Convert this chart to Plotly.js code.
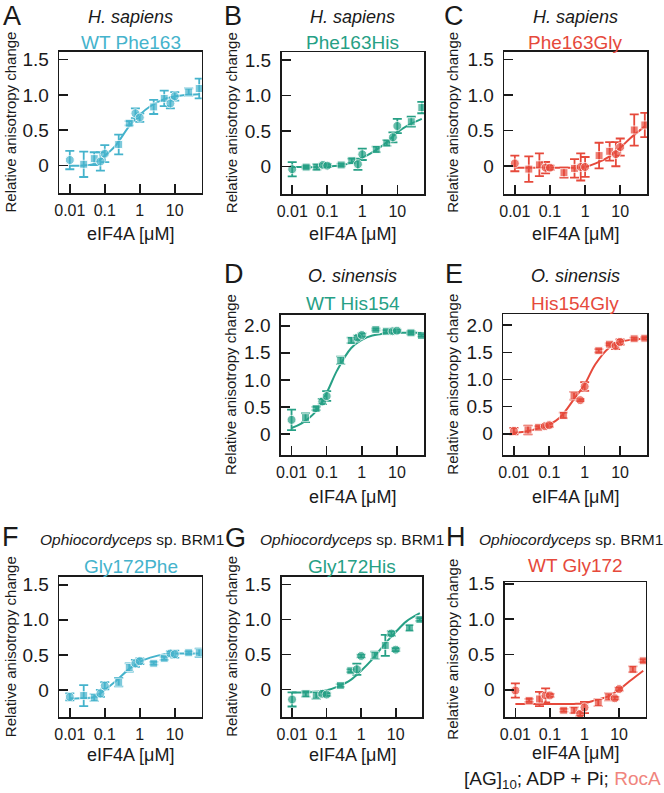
<!DOCTYPE html>
<html>
<head>
<meta charset="utf-8">
<script src="https://cdn.plot.ly/plotly-3.0.1.min.js"></script>
<style>
html,body{margin:0;padding:0;background:#fff;}
#chart{width:664px;height:793px;}
</style>
</head>
<body>
<div id="chart"></div>
<script>
// ---------------- DATA ----------------
const conc = [0.01, 0.025, 0.05, 0.075, 0.1, 0.25, 0.5, 0.75, 1, 2.5, 5, 7.5, 10, 25, 50];
const curveX = [0.01, 0.02, 0.05, 0.1, 0.2, 0.5, 1, 2, 5, 10, 20, 50];
const xTickVals = [0.01, 0.1, 1, 10];
const xTickText = ['0.01', '0.1', '1', '10'];
const yTickVals15 = [0, 0.5, 1.0, 1.5];
const yTickText15 = ['0', '0.5', '1.0', '1.5'];
const yTickVals20 = [0, 0.5, 1.0, 1.5, 2.0];
const yTickText20 = ['0', '0.5', '1.0', '1.5', '2.0'];

const panelLetters = ['A', 'B', 'C', 'D', 'E', 'F', 'G', 'H'];
const speciesNames = ['<i>H. sapiens</i>', '<i>H. sapiens</i>', '<i>H. sapiens</i>',
  '<i>O. sinensis</i>', '<i>O. sinensis</i>',
  '<i>Ophiocordyceps</i> sp. BRM1', '<i>Ophiocordyceps</i> sp. BRM1', '<i>Ophiocordyceps</i> sp. BRM1'];
const variantNames = ['WT Phe163', 'Phe163His', 'Phe163Gly', 'WT His154', 'His154Gly', 'Gly172Phe', 'Gly172His', 'WT Gly172'];
const xTitle = 'eIF4A [μM]';
const yTitle = 'Relative anisotropy change';
const captionParts = ['[AG]', '10', '; ADP + Pi; ', 'RocA'];

// measured points (mean) and error (±)
const yA = [0.08, 0.02, 0.10, 0.06, 0.17, 0.30, 0.60, 0.74, 0.68, 0.83, 0.95, 0.88, 0.98, 1.04, 1.09];
const eA = [0.13, 0.18, 0.09, 0.13, 0.12, 0.14, 0.03, 0.07, 0.06, 0.10, 0.11, 0.07, 0.06, 0.05, 0.14];
const cA = [0.00, 0.00, 0.03, 0.14, 0.28, 0.56, 0.72, 0.84, 0.94, 0.98, 1.00, 1.01];

const yB = [-0.04, -0.01, -0.01, 0.02, 0.01, 0.02, 0.08, 0.03, 0.17, 0.24, 0.33, 0.41, 0.57, 0.63, 0.83];
const eB = [0.10, 0.02, 0.04, 0.02, 0.02, 0.02, 0.03, 0.08, 0.08, 0.04, 0.04, 0.07, 0.10, 0.07, 0.08];
const cB = [-0.01, -0.01, -0.01, 0.00, 0.01, 0.05, 0.12, 0.20, 0.34, 0.48, 0.58, 0.67];

const yC = [0.04, -0.04, 0.02, -0.02, -0.02, -0.09, -0.03, -0.01, -0.01, 0.15, 0.21, 0.17, 0.27, 0.51, 0.58];
const eC = [0.11, 0.18, 0.16, 0.08, 0.03, 0.07, 0.13, 0.19, 0.14, 0.18, 0.13, 0.17, 0.12, 0.22, 0.17];
const cC = [-0.02, -0.02, -0.02, -0.02, -0.02, -0.02, -0.01, 0.04, 0.14, 0.26, 0.40, 0.56];

const yD = [0.26, 0.30, 0.47, 0.60, 0.70, 1.36, 1.73, 1.78, 1.83, 1.93, 1.90, 1.90, 1.91, 1.87, 1.82];
const eD = [0.19, 0.08, 0.03, 0.05, 0.09, 0.07, 0.05, 0.04, 0.03, 0.02, 0.02, 0.02, 0.02, 0.03, 0.02];
const cD = [0.11, 0.20, 0.42, 0.76, 1.18, 1.59, 1.74, 1.82, 1.86, 1.87, 1.87, 1.87];

const yE = [0.05, 0.07, 0.12, 0.14, 0.16, 0.34, 0.70, 0.62, 0.87, 1.53, 1.65, 1.62, 1.69, 1.75, 1.76];
const eE = [0.06, 0.08, 0.02, 0.02, 0.03, 0.05, 0.07, 0.02, 0.08, 0.03, 0.02, 0.06, 0.05, 0.02, 0.02];
const cE = [0.02, 0.04, 0.10, 0.17, 0.30, 0.64, 0.91, 1.28, 1.59, 1.69, 1.73, 1.75];

const yF = [-0.10, -0.08, -0.11, -0.05, 0.06, 0.11, 0.32, 0.38, 0.41, 0.38, 0.45, 0.52, 0.51, 0.53, 0.53];
const eF = [0.05, 0.15, 0.05, 0.05, 0.05, 0.06, 0.06, 0.05, 0.04, 0.02, 0.02, 0.03, 0.05, 0.02, 0.06];
const cF = [-0.12, -0.12, -0.10, 0.00, 0.12, 0.30, 0.40, 0.46, 0.51, 0.52, 0.52, 0.52];

const yG = [-0.14, -0.06, -0.08, -0.06, -0.07, 0.06, 0.27, 0.29, 0.48, 0.49, 0.63, 0.80, 0.57, 0.88, 1.00];
const eG = [0.10, 0.04, 0.05, 0.02, 0.02, 0.02, 0.02, 0.08, 0.02, 0.05, 0.15, 0.03, 0.02, 0.04, 0.02];
const cG = [-0.04, -0.04, -0.03, -0.01, 0.04, 0.14, 0.27, 0.42, 0.66, 0.82, 0.97, 1.09];

const yH = [-0.01, -0.15, -0.13, -0.08, -0.08, -0.29, -0.29, -0.34, -0.25, -0.18, -0.10, -0.12, 0.01, 0.29, 0.41];
const eH = [0.10, 0.02, 0.10, 0.10, 0.02, 0.02, 0.04, 0.03, 0.08, 0.05, 0.05, 0.02, 0.02, 0.04, 0.02];
const cH = [-0.20, -0.20, -0.20, -0.20, -0.20, -0.20, -0.19, -0.15, -0.09, 0.00, 0.12, 0.27];

// ---------------- STYLE / LAYOUT ----------------
const BLUE = '#45b3cc', GREEN = '#26a085', RED = '#e6493b', PINK = '#f0857d';
const FONT = 'Liberation Sans, Arial, Helvetica, sans-serif';
const W = 664, H = 793;

const panels = [
  {y: yA, e: eA, c: cA, color: BLUE,  box: [59.3, 201.7, 51.7, 193.3], yr: [-0.39, 1.61], ticks: 15, letter: [12, 16], ytx: 10, tx: 130.5},
  {y: yB, e: eB, c: cB, color: GREEN, box: [281.7, 424.3, 52.3, 194], yr: [-0.39, 1.61], ticks: 15, letter: [233, 16], ytx: 231, tx: 353},
  {y: yC, e: eC, c: cC, color: RED,   box: [504.3, 647.3, 51.7, 194], yr: [-0.39, 1.61], ticks: 15, letter: [454, 16], ytx: 453, tx: 575.8},
  {y: yD, e: eD, c: cD, color: GREEN, box: [281, 424, 315, 455], yr: [-0.39, 2.2], ticks: 20, letter: [234, 274], ytx: 231, tx: 352.5},
  {y: yE, e: eE, c: cE, color: RED,   box: [503.3, 647.3, 314.3, 455], yr: [-0.39, 2.2], ticks: 20, letter: [454, 274], ytx: 453, tx: 575.3},
  {y: yF, e: eF, c: cF, color: BLUE,  box: [59.3, 201.7, 577, 717.3], yr: [-0.39, 1.61], ticks: 15, letter: [10, 537], ytx: 10, tx: 132},
  {y: yG, e: eG, c: cG, color: GREEN, box: [281.7, 422.3, 576.7, 717], yr: [-0.39, 1.61], ticks: 15, letter: [235, 538], ytx: 232, tx: 352},
  {y: yH, e: eH, c: cH, color: RED,   box: [505, 645.7, 582.3, 717], yr: [-0.385, 1.52], ticks: 15, letter: [456, 537], ytx: 453, tx: 570.5}
];
// title rows: [species y, variant y, x-title y]
const rowText = [[17, 42, 234], [17, 42, 234], [17, 42, 234], [276, 303, 497], [276, 303, 497], [539, 566, 755], [539, 566, 755], [539, 565, 753]];

function symbolFor(c) {
  const m = c / Math.pow(10, Math.floor(Math.log10(c) + 1e-9));
  return (Math.abs(m - 2.5) < 0.01 || Math.abs(m - 5) < 0.01) ? 'square' : 'circle';
}
const px = x => x / W;
const py = y => 1 - y / H;

const traces = [];
const layout = {
  width: W, height: H,
  margin: {l: 0, r: 0, t: 0, b: 0},
  paper_bgcolor: '#fff', plot_bgcolor: '#fff',
  showlegend: false,
  font: {family: FONT, color: '#1a1a1a'},
  annotations: []
};

panels.forEach((p, i) => {
  const n = i === 0 ? '' : String(i + 1);
  const xa = 'x' + n, ya = 'y' + n;
  const [l, r, t, b] = p.box;
  layout['xaxis' + n] = {
    type: 'log', range: [-2.3, 1.77], domain: [px(l), px(r)], anchor: ya,
    tickvals: xTickVals, ticktext: xTickText,
    ticks: 'inside', ticklen: 9, tickwidth: 1.6, tickcolor: '#1a1a1a',
    showline: true, mirror: true, linecolor: '#1a1a1a', linewidth: 1.7,
    showgrid: false, zeroline: false,
    tickfont: {family: FONT, size: 16, color: '#1a1a1a'}, ticklabelstandoff: 2
  };
  layout['yaxis' + n] = {
    range: p.yr, domain: [py(b), py(t)], anchor: xa,
    tickvals: p.ticks === 15 ? yTickVals15 : yTickVals20,
    ticktext: p.ticks === 15 ? yTickText15 : yTickText20,
    ticks: 'inside', ticklen: 9, tickwidth: 1.6, tickcolor: '#1a1a1a',
    showline: true, mirror: true, linecolor: '#1a1a1a', linewidth: 1.7,
    showgrid: false, zeroline: false,
    tickfont: {family: FONT, size: 19, color: '#1a1a1a'}, ticklabelstandoff: 5
  };
  traces.push({
    x: curveX, y: p.c, xaxis: xa, yaxis: ya, type: 'scatter', mode: 'lines',
    line: {color: p.color, width: 2, shape: 'spline', smoothing: 1.0},
    hoverinfo: 'skip', cliponaxis: false
  });
  traces.push({
    x: conc, y: p.y, xaxis: xa, yaxis: ya, type: 'scatter', mode: 'markers',
    marker: {color: p.color, size: conc.map(c => symbolFor(c) === 'square' ? 8 : 9), symbol: conc.map(symbolFor)},
    error_y: {type: 'data', array: p.e, visible: true, color: p.color, thickness: 1.8, width: 4.5},
    cliponaxis: false
  });
  const cx = (l + r) / 2;
  const rt = rowText[i];
  layout.annotations.push(
    {text: panelLetters[i], x: px(p.letter[0]), y: py(p.letter[1]), xref: 'paper', yref: 'paper',
     xanchor: 'center', yanchor: 'middle', showarrow: false, font: {family: FONT, size: 27, color: '#1a1a1a'}},
    {text: speciesNames[i], x: px(p.tx), y: py(rt[0]), xref: 'paper', yref: 'paper',
     xanchor: 'center', yanchor: 'middle', showarrow: false, font: {family: FONT, size: i >= 5 ? 15.5 : 18, color: '#1a1a1a'}},
    {text: variantNames[i], x: px(cx), y: py(rt[1]), xref: 'paper', yref: 'paper',
     xanchor: 'center', yanchor: 'middle', showarrow: false, font: {family: FONT, size: 19, color: p.color}},
    {text: yTitle, x: px(p.ytx), y: py((t + b) / 2), xref: 'paper', yref: 'paper', textangle: -90,
     xanchor: 'center', yanchor: 'middle', showarrow: false, font: {family: FONT, size: 15, color: '#1a1a1a'}},
    {text: xTitle, x: px(cx), y: py(rt[2]), xref: 'paper', yref: 'paper',
     xanchor: 'center', yanchor: 'middle', showarrow: false, font: {family: FONT, size: 18, color: '#1a1a1a'}}
  );
});
layout.annotations.push({
  text: captionParts[0] + '<sub>' + captionParts[1] + '</sub>' + captionParts[2] +
        '<span style="color:' + PINK + '">' + captionParts[3] + '</span>',
  x: px(663), y: py(780), xref: 'paper', yref: 'paper',
  xanchor: 'right', yanchor: 'middle', showarrow: false, font: {family: FONT, size: 19, color: '#1a1a1a'}
});

Plotly.newPlot('chart', traces, layout, {staticPlot: true, displayModeBar: false});
</script>
</body>
</html>
